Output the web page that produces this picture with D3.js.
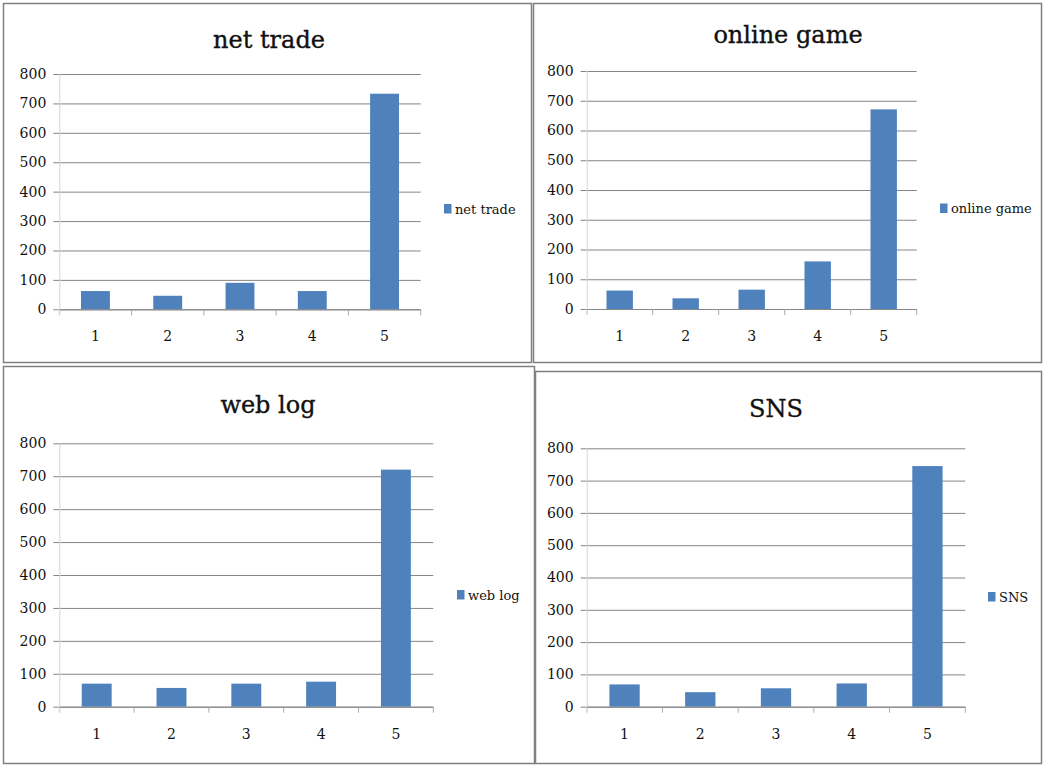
<!DOCTYPE html>
<html>
<head>
<meta charset="utf-8">
<script src="https://cdn.jsdelivr.net/npm/d3@7"></script>
<style>
  html, body { margin: 0; padding: 0; background: #fff; }
  svg { display: block; }
  text { font-family: "DejaVu Serif", "Liberation Serif", serif; fill: #111; }
</style>
</head>
<body>
<svg id="chart" width="1043" height="765"></svg>
<script>
// ---- data ----
const categories = ["1", "2", "3", "4", "5"];
const netTrade   = [62, 46, 90, 62, 733];
const onlineGame = [62, 36, 65, 160, 671];
const webLog     = [70, 57, 70, 76, 720];
const sns        = [69, 45, 57, 72, 745];
const yTicks     = [0, 100, 200, 300, 400, 500, 600, 700, 800];
const titles     = ["net trade", "online game", "web log", "SNS"];
const seriesList = [netTrade, onlineGame, webLog, sns];

// ---- layout (positions only) ----
const layout = [
  { box: [3, 3, 531, 362],   plot: [59.3, 420.7, 74, 309.3],   titleX: 269, titleY: 48,  legX: 444, legY: 204 },
  { box: [533, 3, 1041, 362], plot: [586.7, 916.7, 71, 309],    titleX: 788, titleY: 43,  legX: 940, legY: 203.5 },
  { box: [3, 366, 534, 763],  plot: [59.3, 433.3, 443.3, 706.7], titleX: 268, titleY: 413, legX: 457, legY: 590 },
  { box: [535, 371, 1041, 763], plot: [586.7, 965.3, 448.3, 706.7], titleX: 776, titleY: 417, legX: 988, legY: 592 }
];

const barColor = "#4f81bd";
const gridColor = "#858585";
const svg = d3.select("#chart");

layout.forEach((L, i) => {
  const values = seriesList[i];
  const [bx0, by0, bx1, by1] = L.box;
  const [px0, px1, pyTop, pyBot] = L.plot;
  const g = svg.append("g");

  // panel border
  g.append("rect")
    .attr("x", bx0 + 0.5).attr("y", by0 + 0.5)
    .attr("width", bx1 - bx0).attr("height", by1 - by0)
    .attr("fill", "#fff").attr("stroke", "#7f7f7f").attr("stroke-width", 1.5);

  const x = d3.scaleBand().domain(categories).range([px0, px1])
    .paddingInner(0.6).paddingOuter(0.3);
  const y = d3.scaleLinear().domain([0, 800]).range([pyBot, pyTop]);

  // gridlines + y ticks via axis
  const yAxis = d3.axisLeft(y).tickValues(yTicks).tickSize(-(px1 - px0)).tickPadding(13).tickFormat(d3.format("d"));
  const ya = g.append("g").attr("transform", `translate(${px0},0)`).call(yAxis);
  ya.select(".domain").remove();
  ya.selectAll(".tick line").attr("stroke", gridColor).attr("stroke-width", 1);
  ya.selectAll(".tick text").attr("font-size", 14).attr("fill", "#111")
    .attr("font-family", "DejaVu Serif, serif");
  // outer tick marks to the left
  ya.selectAll(".tick").append("line")
    .attr("x1", -6).attr("x2", 0).attr("stroke", gridColor);

  // vertical axis (light)
  g.append("line")
    .attr("x1", px0 + 0.5).attr("x2", px0 + 0.5)
    .attr("y1", pyTop).attr("y2", pyBot + 6)
    .attr("stroke", "#d4d4d4").attr("stroke-width", 1);

  // bars
  g.selectAll("rect.bar").data(values).join("rect")
    .attr("class", "bar")
    .attr("x", (d, j) => x(categories[j]))
    .attr("width", x.bandwidth())
    .attr("y", d => y(d))
    .attr("height", d => y(0) - y(d))
    .attr("fill", barColor);

  // x axis
  const step = x.step();
  const xa = g.append("g").attr("transform", `translate(0,${pyBot})`)
    .call(d3.axisBottom(x).tickSize(0).tickPadding(22));
  xa.select(".domain").attr("stroke", gridColor).attr("d", `M${px0},0.5H${px1}`);
  xa.selectAll(".tick text").attr("font-size", 14).attr("fill", "#111")
    .attr("font-family", "DejaVu Serif, serif");
  // category boundary ticks
  xa.selectAll("line.bound").data(d3.range(categories.length + 1)).join("line")
    .attr("class", "bound")
    .attr("x1", k => px0 + k * step).attr("x2", k => px0 + k * step)
    .attr("y1", 0).attr("y2", 6)
    .attr("stroke", k => k === 0 ? "#d4d4d4" : "#a8a8a8");

  // title
  g.append("text")
    .attr("x", L.titleX).attr("y", L.titleY)
    .attr("text-anchor", "middle")
    .attr("font-size", 24)
    .attr("stroke", "#111").attr("stroke-width", 0.35)
    .text(titles[i]);

  // legend
  g.append("rect")
    .attr("x", L.legX).attr("y", L.legY)
    .attr("width", 7.5).attr("height", 9.5)
    .attr("fill", barColor);
  g.append("text")
    .attr("x", L.legX + 11).attr("y", L.legY + 5)
    .attr("dominant-baseline", "central")
    .attr("font-size", 13)
    .text(titles[i]);
});
</script>
</body>
</html>
